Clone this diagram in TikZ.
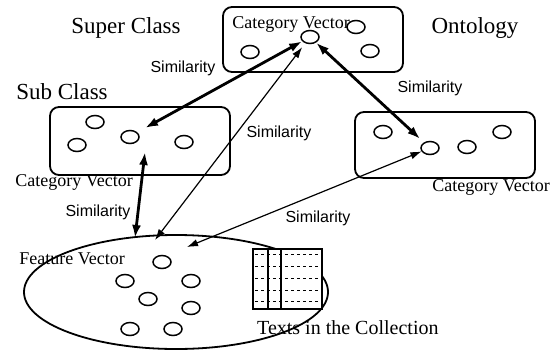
\documentclass[tikz,border=0pt]{standalone}
\usepackage{fontspec}
\setmainfont{Liberation Serif}
\setsansfont{Liberation Sans}
\usetikzlibrary{shapes.geometric,arrows.meta}

\begin{document}
\begin{tikzpicture}[x=1pt,y=-1pt,draw=black]
    \tikzstyle{class box}=[draw=black,rounded corners=9pt,line width=1.8pt,minimum width=180pt]
    \tikzstyle{vec}=[ellipse,draw=black,line width=1.5pt,minimum width=18pt,minimum height=13pt,inner sep=0pt]
    \tikzstyle{title}=[inner sep=0pt,font=\fontsize{23}{26}\selectfont]
    \tikzstyle{annot}=[inner sep=0pt,font=\fontsize{18}{20}\selectfont]
    \tikzstyle{sim}=[inner sep=0pt,font=\sffamily\fontsize{16}{18}\selectfont]
    \tikzstyle{strong link}=[<->,>={Latex[length=13pt,width=9pt]},line width=2.8pt]
    \tikzstyle{weak link}=[<->,>={Latex[length=11pt,width=7.5pt]},line width=1.2pt]

    \useasboundingbox (0,0) rectangle (559,351);

    % Draw the collection and its texts
    \node[ellipse,draw,line width=1.8pt,minimum width=304pt,minimum height=114pt] (coll) at (176,292) {};
    \node[draw,fill=white,line width=1.8pt,minimum width=69pt,minimum height=60pt,inner sep=0pt] (texts) at (287.5,279) {};
    \draw[line width=1.5pt] (268,249) -- (268,309);
    \draw[line width=1.5pt] (281,249) -- (281,309);
    \foreach \y in {254,266,278,290,301}
        \draw[dashed,line width=0.9pt] (255,\y) -- (320,\y);
    \node[annot,font=\fontsize{20}{22}\selectfont,anchor=west] (texts-lbl) at (257,328) {Texts in the Collection};

    % Draw the class boxes
    \node[class box,minimum height=65pt] (super) at (313,39.5) {};
    \node[class box,minimum height=68pt] (sub) at (140,141) {};
    \node[class box,minimum height=66pt] (onto) at (445,145) {};

    % Draw the vectors
    \node[vec] (sup-c) at (310,37) {};
    \foreach \name / \x / \y in {1/250/52, 2/356/27, 3/370/51}
        \node[vec] (sup-\name) at (\x,\y) {};
    \foreach \name / \x / \y in {1/95/122, 2/77/145, 3/130/137, 4/184/142}
        \node[vec] (sub-\name) at (\x,\y) {};
    \node[vec] (ont-c) at (430,148) {};
    \foreach \name / \x / \y in {1/383/132, 2/467/147, 3/502/132}
        \node[vec] (ont-\name) at (\x,\y) {};
    \foreach \name / \x / \y in {1/162/262, 2/125/281, 3/191/281, 4/148/299, 5/191/308, 6/130/329, 7/173/329}
        \node[vec] (fv-\name) at (\x,\y) {};

    \coordinate (sub-in) at (145,128);
    \coordinate (sub-out) at (145,152);
    \coordinate (fv-a) at (135,238);
    \coordinate (fv-b) at (155,240);
    \coordinate (fv-c) at (187,247);

    % Annotate the classes
    \node[title] (super-lbl) at (126,28) {Super Class};
    \node[title] (sub-lbl) at (62,92) {Sub Class};
    \node[title] (onto-lbl) at (475,28) {Ontology};
    \node[annot] (cv-sup) at (291,24) {Category Vector};
    \node[annot] (cv-sub) at (74,182) {Category Vector};
    \node[annot] (cv-ont) at (491,187) {Category Vector};
    \node[annot] (fv-lbl) at (72,259) {Feature Vector};

    % Connect the vectors
    \draw[strong link] (sup-c) -- (sub-in);
    \draw[weak link,shorten <=5pt] (sup-c) -- (fv-b);
    \draw[strong link,shorten >=5pt] (sup-c) -- (ont-c);
    \draw[strong link] (sub-out) -- (fv-a);
    \draw[weak link] (ont-c) -- (fv-c);

    \node[sim] at (183,68) {Similarity};
    \node[sim] at (279,133) {Similarity};
    \node[sim] at (430,88) {Similarity};
    \node[sim] at (98,212) {Similarity};
    \node[sim] at (318,218) {Similarity};
\end{tikzpicture}
\end{document}
